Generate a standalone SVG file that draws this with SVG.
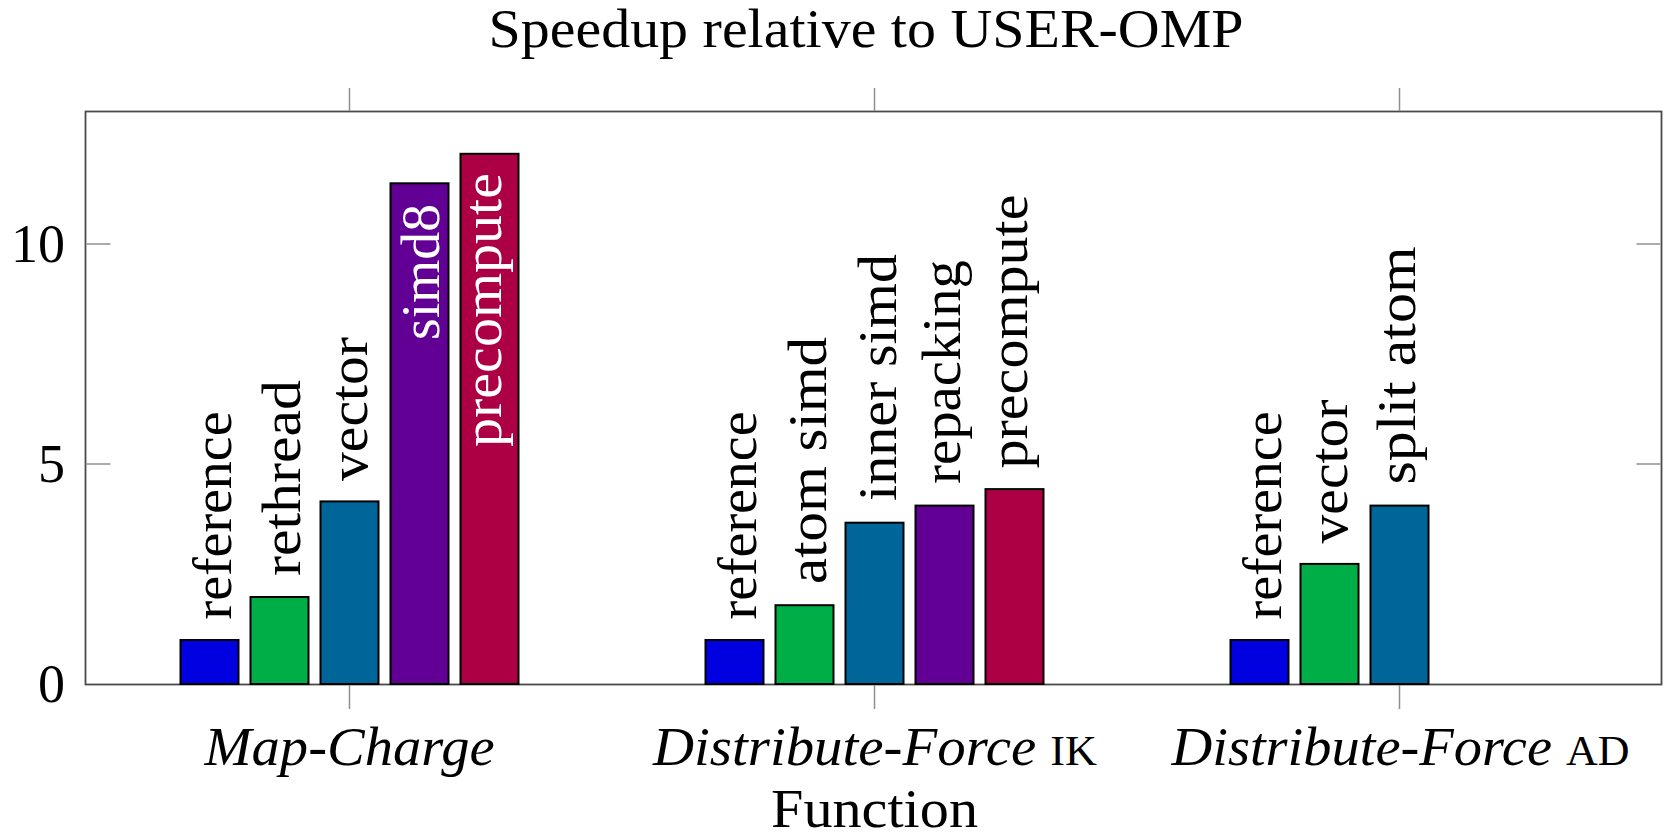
<svg xmlns="http://www.w3.org/2000/svg" width="1666" height="836" viewBox="0 0 1666 836">
<style>
text { font-family: "Liberation Serif", "DejaVu Serif", serif; font-size: 54px; fill: #000; }
.frame { fill: none; stroke: #4a4a4a; stroke-width: 1.8; }
.tick { stroke: #8f8f8f; stroke-width: 1.5; }
.bar { stroke: #000; stroke-width: 2; }
.c1 { fill: #0000e0; }
.c2 { fill: #00ae47; }
.c3 { fill: #006598; }
.c4 { fill: #620096; }
.c5 { fill: #ad0044; }
.in { fill: #fff; }
.it { font-style: italic; }
.sc { font-style: normal; font-size: 42px; }
</style>
<rect width="1666" height="836" fill="#fff"/>
<g id="title">
<text x="866" y="47" text-anchor="middle" textLength="755" lengthAdjust="spacingAndGlyphs">Speedup relative to USER-OMP</text>
</g>
<g id="axis">
<rect class="frame" x="85.5" y="111.5" width="1576" height="573"/>
<line class="tick" x1="349.5" y1="88" x2="349.5" y2="111"/>
<line class="tick" x1="874.5" y1="88" x2="874.5" y2="111"/>
<line class="tick" x1="1399.5" y1="88" x2="1399.5" y2="111"/>
<line class="tick" x1="349.5" y1="685" x2="349.5" y2="709"/>
<line class="tick" x1="874.5" y1="685" x2="874.5" y2="709"/>
<line class="tick" x1="1399.5" y1="685" x2="1399.5" y2="709"/>
<line class="tick" x1="86.5" y1="244" x2="110.5" y2="244"/>
<line class="tick" x1="86.5" y1="464" x2="110.5" y2="464"/>
<line class="tick" x1="1636.5" y1="244" x2="1660.5" y2="244"/>
<line class="tick" x1="1636.5" y1="464" x2="1660.5" y2="464"/>
<text x="65" y="702" text-anchor="end">0</text>
<text x="65" y="482" text-anchor="end">5</text>
<text x="65" y="262" text-anchor="end">10</text>
<text class="it" x="349.5" y="765" text-anchor="middle" textLength="290" lengthAdjust="spacingAndGlyphs">Map-Charge</text>
<text class="it" x="875" y="765" text-anchor="middle" textLength="444" lengthAdjust="spacingAndGlyphs">Distribute-Force <tspan class="sc">IK</tspan></text>
<text class="it" x="1400.5" y="765" text-anchor="middle" textLength="458" lengthAdjust="spacingAndGlyphs">Distribute-Force <tspan class="sc">AD</tspan></text>
<text x="874.5" y="827" text-anchor="middle" textLength="207" lengthAdjust="spacingAndGlyphs">Function</text>
</g>
<g id="group-map-charge">
<g id="mc-reference"><rect class="bar c1" x="180.5" y="640" width="58" height="44"/><text transform="translate(230.5,619.5) rotate(-90)" textLength="208" lengthAdjust="spacingAndGlyphs">reference</text></g>
<g id="mc-rethread"><rect class="bar c2" x="250.5" y="597" width="58" height="87"/><text transform="translate(300,576) rotate(-90)" textLength="196" lengthAdjust="spacingAndGlyphs">rethread</text></g>
<g id="mc-vector"><rect class="bar c3" x="320.5" y="501.4" width="58" height="182.6"/><text transform="translate(366.5,481) rotate(-90)" textLength="144" lengthAdjust="spacingAndGlyphs">vector</text></g>
<g id="mc-simd8"><rect class="bar c4" x="390.5" y="183.3" width="58" height="500.7"/><text class="in" transform="translate(439,204) rotate(-90)" text-anchor="end" textLength="136" lengthAdjust="spacingAndGlyphs">simd8</text></g>
<g id="mc-precompute"><rect class="bar c5" x="460.5" y="153.8" width="58" height="530.2"/><text class="in" transform="translate(501,173) rotate(-90)" text-anchor="end" textLength="274" lengthAdjust="spacingAndGlyphs">precompute</text></g>
</g>
<g id="group-distribute-ik">
<g id="ik-reference"><rect class="bar c1" x="705.5" y="640" width="58" height="44"/><text transform="translate(755.5,619.5) rotate(-90)" textLength="208" lengthAdjust="spacingAndGlyphs">reference</text></g>
<g id="ik-atom-simd"><rect class="bar c2" x="775.5" y="605.2" width="58" height="78.8"/><text transform="translate(826,584) rotate(-90)" textLength="247" lengthAdjust="spacingAndGlyphs">atom simd</text></g>
<g id="ik-inner-simd"><rect class="bar c3" x="845.5" y="522.7" width="58" height="161.3"/><text transform="translate(895.5,501) rotate(-90)" textLength="247" lengthAdjust="spacingAndGlyphs">inner simd</text></g>
<g id="ik-repacking"><rect class="bar c4" x="915.5" y="505.6" width="58" height="178.4"/><text transform="translate(959.5,484) rotate(-90)" textLength="224" lengthAdjust="spacingAndGlyphs">repacking</text></g>
<g id="ik-precompute"><rect class="bar c5" x="985.5" y="489.1" width="58" height="194.9"/><text transform="translate(1027,468.5) rotate(-90)" textLength="274" lengthAdjust="spacingAndGlyphs">precompute</text></g>
</g>
<g id="group-distribute-ad">
<g id="ad-reference"><rect class="bar c1" x="1230.5" y="640" width="58" height="44"/><text transform="translate(1280.5,619.5) rotate(-90)" textLength="208" lengthAdjust="spacingAndGlyphs">reference</text></g>
<g id="ad-vector"><rect class="bar c2" x="1300.5" y="563.9" width="58" height="120.1"/><text transform="translate(1346.5,543.5) rotate(-90)" textLength="144" lengthAdjust="spacingAndGlyphs">vector</text></g>
<g id="ad-split-atom"><rect class="bar c3" x="1370.5" y="505.6" width="58" height="178.4"/><text transform="translate(1415,484.5) rotate(-90)" textLength="238" lengthAdjust="spacingAndGlyphs">split atom</text></g>
</g>
<g id="connectors"/>
</svg>
